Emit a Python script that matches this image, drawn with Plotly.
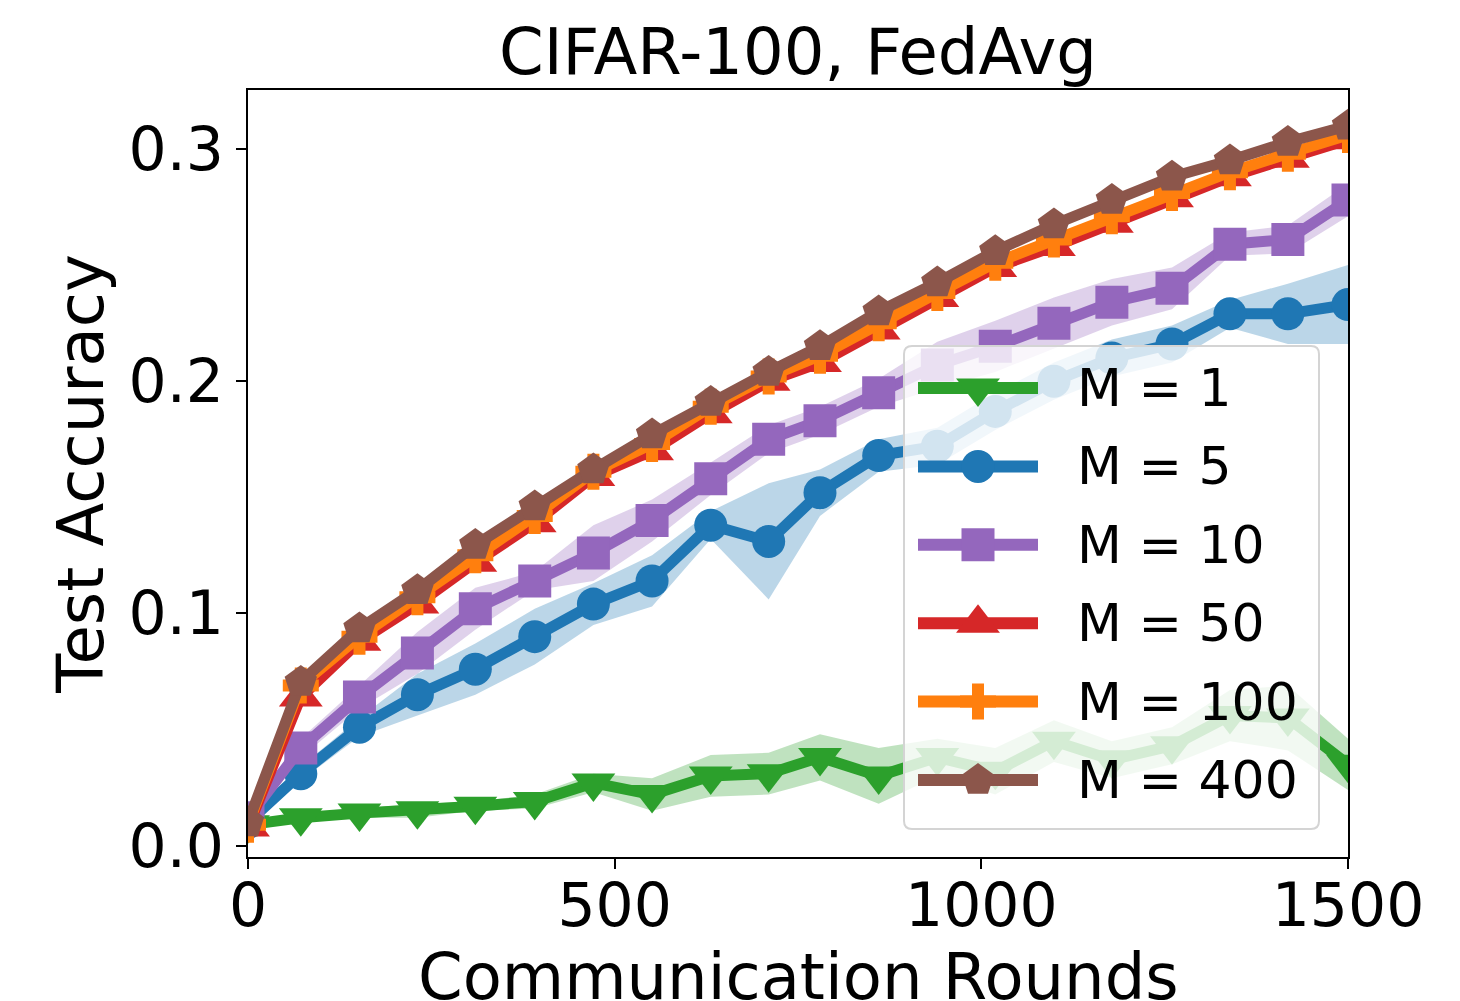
import plotly.graph_objects as go

# ---------------- data ----------------
rounds = [0, 72, 152, 231, 310, 391, 471, 551, 631, 710, 780, 860, 940, 1019, 1099, 1178, 1260, 1339, 1418, 1500]

labels = ["M = 1", "M = 5", "M = 10", "M = 50", "M = 100", "M = 400"]

acc_m1 = [0.009, 0.012, 0.014, 0.015, 0.017, 0.019, 0.027, 0.022, 0.030, 0.031,
          0.038, 0.030, 0.038, 0.032, 0.045, 0.037, 0.043, 0.056, 0.055, 0.035]
std_m1 = [0.001, 0.001, 0.002, 0.003, 0.002, 0.003, 0.004, 0.007, 0.009, 0.009,
          0.010, 0.012, 0.008, 0.010, 0.009, 0.008, 0.008, 0.011, 0.014, 0.011]

acc_m5 = [0.010, 0.031, 0.051, 0.065, 0.076, 0.090, 0.104, 0.114, 0.138, 0.131,
          0.152, 0.168, 0.172, 0.187, 0.200, 0.210, 0.216, 0.229, 0.229, 0.233]
std_m5 = [0.001, 0.003, 0.004, 0.009, 0.011, 0.012, 0.009, 0.011, 0.006, 0.025,
          0.010, 0.007, 0.008, 0.008, 0.008, 0.008, 0.008, 0.006, 0.013, 0.017]

acc_m10 = [0.012, 0.042, 0.064, 0.083, 0.102, 0.114, 0.126, 0.140, 0.158, 0.175,
           0.183, 0.195, 0.207, 0.215, 0.225, 0.234, 0.240, 0.259, 0.261, 0.278]
std_m10 = [0.001, 0.004, 0.005, 0.009, 0.009, 0.004, 0.012, 0.009, 0.007, 0.006,
           0.006, 0.006, 0.010, 0.011, 0.011, 0.010, 0.009, 0.005, 0.006, 0.007]

acc_m50 = [0.008, 0.064, 0.088, 0.104, 0.122, 0.139, 0.159, 0.170, 0.186, 0.200,
           0.208, 0.222, 0.236, 0.249, 0.258, 0.268, 0.279, 0.288, 0.296, 0.304]
std_m50 = [0.001, 0.002, 0.002, 0.001, 0.002, 0.001, 0.002, 0.001, 0.002, 0.001,
           0.002, 0.001, 0.002, 0.001, 0.001, 0.002, 0.001, 0.002, 0.001, 0.002]

acc_m100 = [0.009, 0.069, 0.090, 0.107, 0.125, 0.142, 0.161, 0.173, 0.189, 0.202,
            0.211, 0.225, 0.238, 0.251, 0.261, 0.271, 0.281, 0.290, 0.298, 0.306]
std_m100 = [0.001, 0.001, 0.002, 0.001, 0.001, 0.002, 0.001, 0.001, 0.002, 0.001,
            0.001, 0.002, 0.001, 0.001, 0.002, 0.001, 0.001, 0.002, 0.001, 0.001]

acc_m400 = [0.010, 0.0705, 0.0935, 0.110, 0.1295, 0.146, 0.162, 0.177, 0.191, 0.204,
            0.215, 0.230, 0.2425, 0.256, 0.2675, 0.278, 0.288, 0.295, 0.303, 0.310]
std_m400 = [0.001, 0.001, 0.001, 0.002, 0.001, 0.001, 0.002, 0.001, 0.001, 0.001,
            0.002, 0.001, 0.001, 0.001, 0.002, 0.001, 0.001, 0.001, 0.002, 0.001]

# ---------------- styles ----------------
means = [acc_m1, acc_m5, acc_m10, acc_m50, acc_m100, acc_m400]
stds = [std_m1, std_m5, std_m10, std_m50, std_m100, std_m400]
colors = ["#2ca02c", "#1f77b4", "#9467bd", "#d62728", "#ff7f0e", "#8c564b"]
rgb = [(44, 160, 44), (31, 119, 180), (148, 103, 189), (214, 39, 40), (255, 127, 14), (140, 86, 75)]
symbols = ["triangle-down", "circle", "square", "triangle-up", "cross", "pentagon"]
msizes = [38, 33, 33, 38, 30, 34]
LW = 11
FONT = "DejaVu Sans"

fig = go.Figure()

# shaded bands (below all lines, like matplotlib fill_between)
for m, s, c in zip(means, stds, rgb):
    upper = [a + b for a, b in zip(m, s)]
    lower = [a - b for a, b in zip(m, s)]
    fig.add_trace(go.Scatter(
        x=rounds + rounds[::-1], y=upper + lower[::-1],
        fill="toself", mode="lines", line=dict(width=0),
        fillcolor="rgba(%d,%d,%d,0.3)" % c,
        hoverinfo="skip", showlegend=False, xaxis="x", yaxis="y"))

# lines with markers
for m, c, sym, ms, lab in zip(means, colors, symbols, msizes, labels):
    fig.add_trace(go.Scatter(
        x=rounds, y=m, mode="lines+markers", name=lab,
        line=dict(color=c, width=LW),
        marker=dict(symbol=sym, size=ms, color=c, line=dict(width=0)),
        showlegend=False, xaxis="x", yaxis="y"))

# ---------------- custom legend (drawn in its own small subplot) ----------------
leg_w, leg_h = 417, 485          # subplot size in px; axis units == px
row0, row_step = 43, 78.4
for i, (c, sym, ms, lab) in enumerate(zip(colors, symbols, msizes, labels)):
    ry = row0 + i * row_step
    fig.add_trace(go.Scatter(x=[15, 135], y=[ry, ry], mode="lines",
                             line=dict(color=c, width=LW + 1),
                             hoverinfo="skip", showlegend=False,
                             xaxis="x2", yaxis="y2", cliponaxis=False))
    fig.add_trace(go.Scatter(x=[75], y=[ry], mode="markers",
                             marker=dict(symbol=sym, size=ms, color=c, line=dict(width=0)),
                             hoverinfo="skip", showlegend=False,
                             xaxis="x2", yaxis="y2", cliponaxis=False))
    fig.add_annotation(x=172, y=ry, xref="x2", yref="y2", text=lab,
                       showarrow=False, xanchor="left", yanchor="middle",
                       font=dict(family=FONT, size=52, color="black"))

r = 8
border = ("M {r},1 L {a},1 Q {w},1 {w},{r1} L {w},{b} Q {w},{h} {a},{h} "
          "L {r},{h} Q 1,{h} 1,{b} L 1,{r1} Q 1,1 {r},1 Z").format(
    r=r + 1, a=leg_w - r - 1, w=leg_w - 1, r1=r + 1, b=leg_h - r - 1, h=leg_h - 1)
fig.add_shape(type="path", path=border, xref="x2", yref="y2",
              line=dict(color="#d4d4d4", width=2), fillcolor="rgba(0,0,0,0)", layer="above")

W, H = 1460, 1001
L, R, T, B = 248, 112, 90, 144
pw, ph = W - L - R, H - T - B
leg_x0 = (903 - L) / pw
leg_y1 = (H - B - 345) / ph

# x-axis title as an annotation so it may sit partly below the page edge (as in the reference)
fig.add_annotation(x=0.5, y=-(977 - (H - B)) / ph, xref="paper", yref="paper",
                   text="Communication Rounds", showarrow=False,
                   xanchor="center", yanchor="middle",
                   font=dict(family=FONT, size=64, color="black"))

fig.update_layout(
    width=W, height=H,
    margin=dict(l=L, r=R, t=T, b=B, pad=0, autoexpand=False),
    paper_bgcolor="white",
    plot_bgcolor="rgba(255,255,255,0.8)",
    font=dict(family=FONT, color="black"),
    showlegend=False,
    title=dict(text="CIFAR-100, FedAvg", x=(L + pw / 2) / W, xanchor="center",
               y=1 - 52 / H, yanchor="middle", yref="container", automargin=False,
               font=dict(family=FONT, size=64, color="black")),
    xaxis=dict(range=[0, 1500], tickvals=[0, 500, 1000, 1500], automargin=False,
               ticks="outside", ticklen=10, tickwidth=2, tickcolor="black",
               ticklabelstandoff=-15,
               showline=True, linecolor="black", linewidth=2, mirror=True,
               showgrid=False, zeroline=False,
               tickfont=dict(family=FONT, size=60)),
    yaxis=dict(range=[-0.0049, 0.3254], tickvals=[0, 0.1, 0.2, 0.3], automargin=False,
               ticktext=["0.0", "0.1", "0.2", "0.3"],
               ticks="outside", ticklen=10, tickwidth=2, tickcolor="black",
               showline=True, linecolor="black", linewidth=2, mirror=True,
               showgrid=False, zeroline=False,
               tickfont=dict(family=FONT, size=60),
               title=dict(text="Test Accuracy", standoff=4,
                          font=dict(family=FONT, size=64))),
    xaxis2=dict(domain=[leg_x0, leg_x0 + leg_w / pw], range=[0, leg_w], anchor="y2",
                visible=False, fixedrange=True),
    yaxis2=dict(domain=[leg_y1 - leg_h / ph, leg_y1], range=[leg_h, 0], anchor="x2",
                visible=False, fixedrange=True),
)

fig.write_html("out.html", include_plotlyjs=True, full_html=True,
               config={"displayModeBar": False},
               post_script="document.body.style.margin='0px';")
